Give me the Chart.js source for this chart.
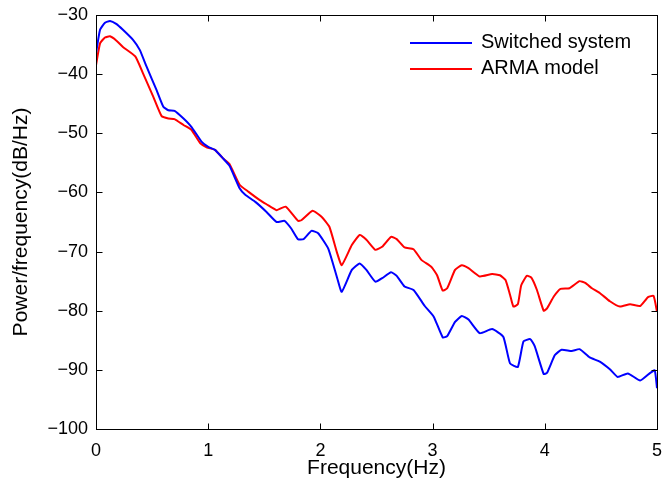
<!DOCTYPE html>
<html>
<head>
<meta charset="utf-8">
<script src="https://cdn.jsdelivr.net/npm/chart.js@4.4.1/dist/chart.umd.min.js"></script>
<style>
  html, body { margin: 0; padding: 0; background: #fff; }
  canvas { display: block; }
</style>
</head>
<body>
<canvas id="psd" width="664" height="487"></canvas>
<script>
// valores (dB/Hz)
const blueFreq = [0.00, 0.036, 0.08, 0.125, 0.18, 0.24, 0.33, 0.39, 0.45, 0.54, 0.60, 0.645, 0.70, 0.78, 0.85, 0.94, 1.00, 1.06, 1.13, 1.19,
  1.28, 1.33, 1.42, 1.52, 1.61, 1.68, 1.74, 1.80, 1.85, 1.92, 1.98, 2.07, 2.15, 2.19, 2.28, 2.35, 2.41, 2.49, 2.55, 2.63,
  2.68, 2.75, 2.83, 2.93, 3.01, 3.09, 3.13, 3.20, 3.26, 3.32, 3.42, 3.53, 3.63, 3.69, 3.76, 3.81, 3.87, 3.91, 3.99, 4.02,
  4.09, 4.15, 4.24, 4.31, 4.40, 4.49, 4.58, 4.65, 4.74, 4.85, 4.94, 4.98, 5.00];
const bluePsd = [-36.5, -32.5, -31.3, -31.0, -31.5, -32.5, -34.2, -35.9, -38.7, -42.7, -45.5, -46.1, -46.2, -47.5, -48.9, -51.4, -52.3, -52.8, -54.2, -55.5,
  -59.3, -60.4, -61.6, -63.3, -65.0, -64.8, -66.1, -67.9, -67.9, -66.5, -66.9, -69.5, -74.5, -76.8, -73.1, -72.0, -73.1, -75.1, -74.5, -73.5,
  -74.1, -75.9, -76.5, -79.2, -81.0, -84.5, -84.3, -81.9, -80.9, -81.5, -83.8, -83.1, -84.4, -88.9, -89.5, -85.2, -84.8, -86.0, -90.7, -90.5,
  -87.5, -86.6, -86.8, -86.5, -87.9, -88.6, -89.9, -91.2, -90.6, -91.8, -90.5, -90.1, -93.1];

const redFreq = [0.00, 0.036, 0.08, 0.125, 0.18, 0.24, 0.35, 0.42, 0.51, 0.585, 0.645, 0.70, 0.78, 0.85, 0.93, 0.99, 1.06, 1.13, 1.19, 1.28,
  1.36, 1.46, 1.52, 1.61, 1.69, 1.80, 1.83, 1.93, 2.01, 2.08, 2.15, 2.19, 2.28, 2.35, 2.41, 2.49, 2.55, 2.63, 2.68, 2.75,
  2.83, 2.90, 2.99, 3.04, 3.09, 3.13, 3.20, 3.26, 3.32, 3.42, 3.53, 3.60, 3.65, 3.69, 3.72, 3.76, 3.79, 3.84, 3.88, 3.93,
  3.99, 4.02, 4.08, 4.14, 4.22, 4.31, 4.36, 4.42, 4.49, 4.58, 4.67, 4.76, 4.85, 4.92, 4.97, 5.00];
const redPsd = [-38.5, -34.8, -33.8, -33.6, -34.3, -35.4, -37.0, -39.9, -43.8, -47.1, -47.5, -47.6, -48.6, -49.4, -51.7, -52.4, -52.8, -54.2, -55.2, -58.7,
  -59.9, -61.3, -62.0, -63.0, -62.4, -64.8, -64.7, -63.1, -64.1, -65.8, -70.3, -72.3, -68.9, -67.2, -68.0, -69.7, -69.2, -67.5, -67.9, -69.3,
  -69.6, -71.4, -72.6, -74.0, -76.6, -76.2, -73.1, -72.3, -72.8, -74.2, -73.8, -74.0, -74.8, -77.3, -79.3, -78.9, -75.7, -74.1, -74.4, -76.5,
  -80.0, -79.6, -77.6, -76.3, -76.2, -75.0, -75.3, -76.2, -77.0, -78.4, -79.3, -78.9, -79.2, -77.7, -77.5, -80.2];

const SERIES_LABELS = ["Switched system", "ARMA model"];
const X_TICKS = [0, 1, 2, 3, 4, 5];
const Y_TICKS = [-100, -90, -80, -70, -60, -50, -40, -30];

const FONT = "'Liberation Sans', Arial, sans-serif";
const pts = (xs, ys) => xs.map((x, i) => ({ x, y: ys[i] }));
const minus = (v) => String(v).replace("-", "\u2212");

// moldura estilo MATLAB: caixa fechada com ticks para dentro, legenda sem borda
const frameAndLegend = {
  id: "frameAndLegend",
  afterDraw(chart) {
    const { ctx, chartArea: a, scales: { x, y } } = chart;
    const L = Math.round(a.left) + 0.5, R = Math.round(a.right) + 0.5;
    const T = Math.round(a.top) + 0.5, B = Math.round(a.bottom) + 0.5;
    ctx.save();
    ctx.strokeStyle = "#000"; ctx.lineWidth = 1;
    ctx.strokeRect(L, T, R - L, B - T);
    ctx.beginPath();
    X_TICKS.forEach((v) => {
      const px = Math.round(x.getPixelForValue(v)) + 0.5;
      ctx.moveTo(px, B); ctx.lineTo(px, B - 6);
      ctx.moveTo(px, T); ctx.lineTo(px, T + 6);
    });
    Y_TICKS.forEach((v) => {
      const py = Math.round(y.getPixelForValue(v)) + 0.5;
      ctx.moveTo(L, py); ctx.lineTo(L + 6, py);
      ctx.moveTo(R, py); ctx.lineTo(R - 6, py);
    });
    ctx.stroke();

    // legenda
    ctx.font = `20px ${FONT}`;
    ctx.textBaseline = "middle";
    ctx.fillStyle = "#000";
    chart.data.datasets.forEach((ds, i) => {
      const ly = 43 + i * 26;
      ctx.strokeStyle = ds.borderColor; ctx.lineWidth = 2;
      ctx.beginPath(); ctx.moveTo(410, ly); ctx.lineTo(472, ly); ctx.stroke();
      ctx.fillText(ds.label, 481, ly - 1);
    });
    ctx.restore();
  },
};

new Chart(document.getElementById("psd"), {
  type: "line",
  data: {
    datasets: [
      { label: SERIES_LABELS[0], data: pts(blueFreq, bluePsd), borderColor: "#0000ff" },
      { label: SERIES_LABELS[1], data: pts(redFreq, redPsd), borderColor: "#ff0000" },
    ].map((d) => Object.assign(d, { borderWidth: 2, pointRadius: 0, tension: 0.15, fill: false })),
  },
  options: {
    responsive: false, animation: false,
    layout: { padding: { top: 15, right: 7, left: 0, bottom: 0 } },
    plugins: { legend: { display: false }, tooltip: { enabled: false } },
    scales: {
      x: {
        type: "linear", min: 0, max: 5,
        afterBuildTicks: (s) => { s.ticks = X_TICKS.map((v) => ({ value: v })); },
        afterFit: (s) => { s.height = 58; s.paddingLeft = 0; s.paddingRight = 0; },
        grid: { display: false }, border: { display: false },
        ticks: { color: "#000", font: { family: FONT, size: 18 }, padding: 3, maxRotation: 0 },
        title: { display: true, text: "Frequency(Hz)", color: "#000", font: { family: FONT, size: 21 }, padding: { bottom: 6, top: 0 } },
      },
      y: {
        type: "linear", min: -100, max: -30,
        afterBuildTicks: (s) => { s.ticks = Y_TICKS.map((v) => ({ value: v })); },
        afterFit: (s) => { s.width = 96; s.paddingTop = 0; s.paddingBottom = 0; },
        grid: { display: false }, border: { display: false },
        ticks: { color: "#000", font: { family: FONT, size: 18 }, padding: 0, callback: (v) => minus(v) },
        title: { display: true, text: "Power/frequency(dB/Hz)", color: "#000", font: { family: FONT, size: 21 }, padding: { top: 9, bottom: 0 } },
      },
    },
  },
  plugins: [frameAndLegend],
});
</script>
</body>
</html>
